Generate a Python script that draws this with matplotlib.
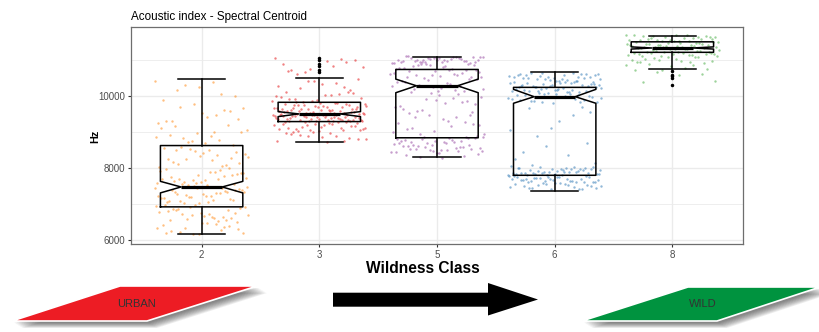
import numpy as np
import matplotlib
matplotlib.use("Agg")
import matplotlib.pyplot as plt
from matplotlib.patches import Polygon

plt.rcParams['font.family'] = ['Liberation Sans', 'DejaVu Sans']

# 1. Data: spectral centroid (Hz) per wildness class
classes = ["2", "3", "5", "6", "8"]
colors = ["#FF8C1A", "#E41A1C", "#984EA3", "#377EB8", "#4DAF4A"]

# box statistics
q1 = [6927, 9285, 8837, 7800, 11200]
med = [7477, 9497, 10275, 9973, 11320]
q3 = [8622, 9818, 10726, 10231, 11490]
whis_lo = [6165, 8722, 8295, 7360, 10734]
whis_hi = [10459, 10495, 11073, 10652, 11642]
notch_lo = [7313, 9422, 10083, 9791, 11290]
notch_hi = [7632, 9560, 10459, 10176, 11350]
outliers = [
    [],
    [11050, 10995, 10870, 10815, 10705, 10645],
    [],
    [],
    [10690, 10585, 10535, 10485, 10310],
]

# individual recordings
hz_class2 = [
    10420, 10380, 10150, 9980, 10230, 9870, 10050, 10310,
    9650, 9420, 9310, 9580, 9760, 9240, 9470, 9700, 9360, 9530, 9290, 9610,
    8710, 9050, 8890, 9150, 8650, 8960, 9100, 8780, 8830, 9010, 8690, 8920, 9180, 8740, 8850, 8990,
    8120, 8450, 8330, 8560, 8050, 8240, 8390, 8510, 8180, 8290, 8470, 8020, 8360, 8580, 8140, 8420,
    8260, 8090, 8530, 8310, 8210, 8490,
    7560, 7810, 7690, 7940, 7620, 7870, 7530, 7750, 7990, 7660, 7580, 7900, 7710, 7840, 7610, 7960,
    7780, 7520, 7730, 7880, 7640, 7820, 7590, 7920, 7700, 7550, 7850, 7680,
    7080, 7350, 7210, 7460, 7130, 7290, 7400, 7020, 7180, 7440, 7260, 7330, 7050, 7380, 7150, 7490,
    7230, 7310, 7100, 7420, 7270, 7060, 7370, 7190, 7480, 7240, 7340, 7120, 7450, 7170, 7300, 7030,
    7390, 7220,
    6560, 6830, 6710, 6950, 6620, 6880, 6520, 6770, 6990, 6650, 6590, 6910, 6730, 6860, 6610, 6970,
    6790, 6530, 6740, 6890, 6680, 6810, 6570, 6930, 6700, 6640, 6850, 6760,
    6180, 6420, 6290, 6350, 6210, 6470, 6260, 6390, 6170, 6330, 6450, 6240, 6310, 6490, 6200, 6380,
]
hz_class3 = [
    10680, 10920, 10750, 11040, 10830, 10610, 10980, 10720, 10870, 11010, 10650, 10790, 10950, 10700,
    10150, 10420, 10280, 10360, 10210, 10470, 10320, 10110, 10250, 10400,
    9850, 10030, 9920, 10080, 9880, 9970, 10060, 9830, 9950, 10010, 9900, 10090, 9860, 9990,
    9510, 9740, 9620, 9805, 9560, 9690, 9530, 9770, 9600, 9650, 9545, 9720, 9580, 9790, 9640, 9505,
    9710, 9590, 9760, 9520, 9670, 9610, 9815, 9550, 9700, 9630, 9575, 9750, 9525, 9680, 9595, 9730,
    9540, 9660, 9800, 9565, 9690, 9615, 9780, 9535, 9645, 9710, 9585, 9755, 9625,
    9300, 9460, 9380, 9495, 9330, 9420, 9290, 9470, 9350, 9440, 9310, 9485, 9400, 9360, 9450, 9320,
    9410, 9490, 9340, 9430, 9295, 9475, 9370, 9455, 9315, 9390, 9480, 9345, 9425, 9305, 9465, 9385,
    9445, 9325, 9415, 9498, 9355, 9435, 9288, 9470, 9395, 9335, 9460, 9375, 9420,
    9020, 9240, 9130, 9270, 9060, 9190, 9100, 9250, 9010, 9160, 9220, 9080, 9280, 9140, 9040, 9200,
    9110, 9260, 9050, 9180, 9230, 9090, 9150, 9030, 9210, 9120, 9265, 9070,
    8730, 8950, 8820, 8990, 8760, 8880, 8920, 8790, 8850, 8970, 8740, 8900, 8810, 8960,
]
hz_class5 = [
    10920, 11060, 10980, 11090, 10950, 11020, 10910, 11070, 10990, 10940, 11040, 10960, 11010, 10930,
    11080, 10970, 11050, 10905, 11030, 10985, 11065, 10945, 11000, 10925, 11085, 10965, 11045, 10915,
    11025, 10955, 11075, 10995, 10935, 11055, 10975,
    10520, 10810, 10670, 10890, 10560, 10740, 10610, 10850, 10700, 10540, 10780, 10630, 10870, 10590,
    10720, 10830, 10510, 10690, 10760, 10580, 10880, 10650, 10800, 10530, 10710, 10860, 10620, 10750,
    10570, 10840,
    10130, 10420, 10280, 10480, 10190, 10350, 10110, 10450, 10240, 10390, 10160, 10310, 10470, 10220,
    10370, 10140, 10430, 10260, 10330, 10180,
    9540, 9890, 9720, 10050, 9610, 9960, 9790, 9520, 9850, 10080, 9680, 9930, 9570, 9760, 10010, 9640,
    9820, 9910,
    8950, 9310, 9120, 9460, 9020, 9240, 9400, 8930, 9180, 9350, 9070, 9280, 9480, 8990, 9150, 9420, 9210,
    8420, 8760, 8590, 8870, 8480, 8690, 8540, 8820, 8650, 8450, 8730, 8610, 8890, 8510, 8780, 8570,
    8700, 8440, 8840, 8630, 8520, 8750, 8680, 8460, 8800, 8560, 8720, 8600, 8860, 8490, 8660, 8770,
    8530, 8830, 8410, 8620, 8740, 8580, 8850, 8500, 8710, 8640, 8470, 8790, 8550,
    8310, 8380, 8270, 8350, 8330,
]
hz_class6 = [
    10420, 10610, 10510, 10640, 10450, 10560, 10480, 10590, 10430, 10530, 10620, 10470, 10570, 10410,
    10500, 10600, 10460, 10550, 10440, 10630, 10520, 10490, 10580, 10415, 10540, 10605, 10455, 10565,
    10485, 10525,
    10120, 10350, 10230, 10390, 10160, 10280, 10110, 10330, 10210, 10370, 10140, 10260, 10310, 10190,
    10380, 10130, 10250, 10340, 10170, 10290, 10220, 10360, 10105, 10270, 10320, 10150, 10240, 10395,
    10180, 10300, 10200, 10345, 10125, 10265, 10375, 10165, 10235, 10315, 10195, 10285,
    9820, 10050, 9930, 10090, 9860, 9990, 9810, 10030, 9900, 10070, 9840, 9960, 10010, 9880, 10080,
    9920, 10040, 9850, 9970, 10060, 9890, 10020, 9830, 9950, 10000,
    9650, 8700, 9120, 8250, 9480, 8900, 8150, 9300, 8450, 9700, 8600, 9050, 8350, 8080, 9550,
    7810, 7990, 7880, 8030, 7840, 7950, 7820, 8010, 7900, 7860, 7970, 7830, 8040, 7920, 7850, 7980,
    7890, 7815, 8000, 7940, 7870, 7960, 7825, 8020, 7910, 7845, 7985, 7875, 7935, 7805, 8045, 7895,
    7855, 7965, 7835, 8005, 7925, 7865, 7945, 7885,
    7620, 7770, 7690, 7790, 7650, 7730, 7610, 7760, 7680, 7710, 7640, 7780, 7700, 7630, 7750, 7670,
    7740, 7605, 7720, 7660, 7795, 7685, 7625, 7765, 7705, 7645, 7735, 7615, 7755, 7675,
    7420, 7580, 7490, 7550, 7440, 7520, 7410, 7570, 7470, 7530, 7450, 7590, 7500, 7430, 7560, 7480,
    7540, 7460, 7510, 7595,
]
hz_class8 = [
    11520, 11650, 11580, 11690, 11540, 11620, 11510, 11670, 11600, 11560, 11640, 11530, 11680, 11590,
    11550, 11630, 11505, 11660, 11570, 11610, 11545, 11675, 11585, 11625, 11515,
    11320, 11470, 11390, 11490, 11340, 11430, 11310, 11460, 11370, 11410, 11350, 11480, 11380, 11330,
    11450, 11360, 11420, 11305, 11440, 11395, 11325, 11485, 11375, 11415, 11345, 11465, 11355, 11435,
    11385, 11400,
    11120, 11270, 11190, 11290, 11140, 11230, 11110, 11260, 11170, 11210, 11150, 11280, 11180, 11130,
    11250, 11160, 11220, 11105, 11240, 11195, 11125, 11285, 11175, 11215, 11145,
    10920, 11060, 10980, 11090, 10950, 11020, 10910, 11070, 10990, 10940, 11040, 10960, 11010, 10930,
    11080,
    10720, 10860, 10780, 10890, 10750, 10820, 10710, 10840,
    10650, 10420, 10560, 10380, 10610,
]
points = [hz_class2, hz_class3, hz_class5, hz_class6, hz_class8]

# 2. Figure and panel
fig = plt.figure(figsize=(8.19, 3.32), dpi=100)
ax = fig.add_axes([131 / 819, 1 - 244 / 332, 612 / 819, 217 / 332])

pos = np.arange(1, len(classes) + 1)

# jittered points (horizontal spread only)
for i, vals in enumerate(points):
    vals = np.asarray(vals)
    k = np.arange(len(vals))
    off = ((k * 0.6180339887 + 0.17 * i) % 1.0 - 0.5) * 0.8
    ax.scatter(pos[i] + off, vals, s=3.0, color=colors[i], alpha=0.55,
               linewidths=0, zorder=2)

stats = []
for i in range(len(classes)):
    stats.append(dict(med=med[i], q1=q1[i], q3=q3[i], whislo=whis_lo[i],
                      whishi=whis_hi[i], cilo=notch_lo[i], cihi=notch_hi[i],
                      fliers=outliers[i]))

ax.bxp(stats, positions=pos, widths=0.7, shownotches=True, capwidths=0.4,
       boxprops=dict(color="black", lw=1.1),
       whiskerprops=dict(color="black", lw=1.1),
       capprops=dict(color="black", lw=1.1),
       medianprops=dict(color="black", lw=2.3),
       flierprops=dict(marker="o", markersize=1.5, markerfacecolor="black",
                       markeredgecolor="black"),
       manage_ticks=False, zorder=3)

ax.set_xlim(0.4, 5.6)
ax.set_ylim(5900, 11900)
ax.set_xticks(pos)
ax.set_xticklabels(classes)
ax.set_yticks([6000, 8000, 10000])
ax.set_yticks([7000, 9000, 11000], minor=True)
ax.tick_params(axis="both", which="major", labelsize=7, labelcolor="#4D4D4D",
               color="#333333", length=2.5, width=0.8, pad=2)
ax.tick_params(axis="y", which="minor", length=0)
ax.grid(True, which="major", color="#EBEBEB", lw=1.0, zorder=0)
ax.grid(True, which="minor", axis="y", color="#EBEBEB", lw=0.6, zorder=0)
ax.set_axisbelow(True)
for s in ax.spines.values():
    s.set_color("#6E6E6E")
    s.set_linewidth(0.9)

fig.text(131 / 819, 1 - 20 / 332, "Acoustic index - Spectral Centroid",
         fontsize=8.4, va="baseline", ha="left")
fig.text(95 / 819, 1 - 136 / 332, "Hz", rotation=90, fontsize=7.8,
         fontweight="bold", ha="center", va="center")
fig.text(423 / 819, 1 - 273 / 332, "Wildness Class", fontsize=11.2,
         fontweight="bold", ha="center", va="baseline")

# 3. Urban -> wild banner
deco = fig.add_axes([0, 0, 1, 1], zorder=-1)
deco.set_xlim(0, 819)
deco.set_ylim(332, 0)
deco.axis("off")


def banner(pts, face, label, tx, ty):
    pts = np.array(pts, dtype=float)
    # soft drop shadow
    for j in range(10):
        sh = pts + np.array([2 + 0.9 * j, 2 + 0.55 * j])
        deco.add_patch(Polygon(sh, closed=True, color="#303030", alpha=0.08, lw=0))
    deco.add_patch(Polygon(pts, closed=True, facecolor=face, edgecolor="white", lw=1.2))
    deco.text(tx, ty, label, fontsize=8, color="#333333", ha="center", va="center")


banner([(12, 321), (147, 321), (257, 286), (120, 286)], "#ED1C24", "URBAN", 137, 304)
banner([(582, 321), (717, 321), (820, 287), (688, 287)], "#00933F", "WILD", 703, 304)

arrow = [(333, 292.7), (488, 292.7), (488, 283), (538, 299.5),
         (488, 315.5), (488, 306.7), (333, 306.7)]
deco.add_patch(Polygon(arrow, closed=True, color="black", lw=0))

fig.savefig("out.png", dpi=100)
